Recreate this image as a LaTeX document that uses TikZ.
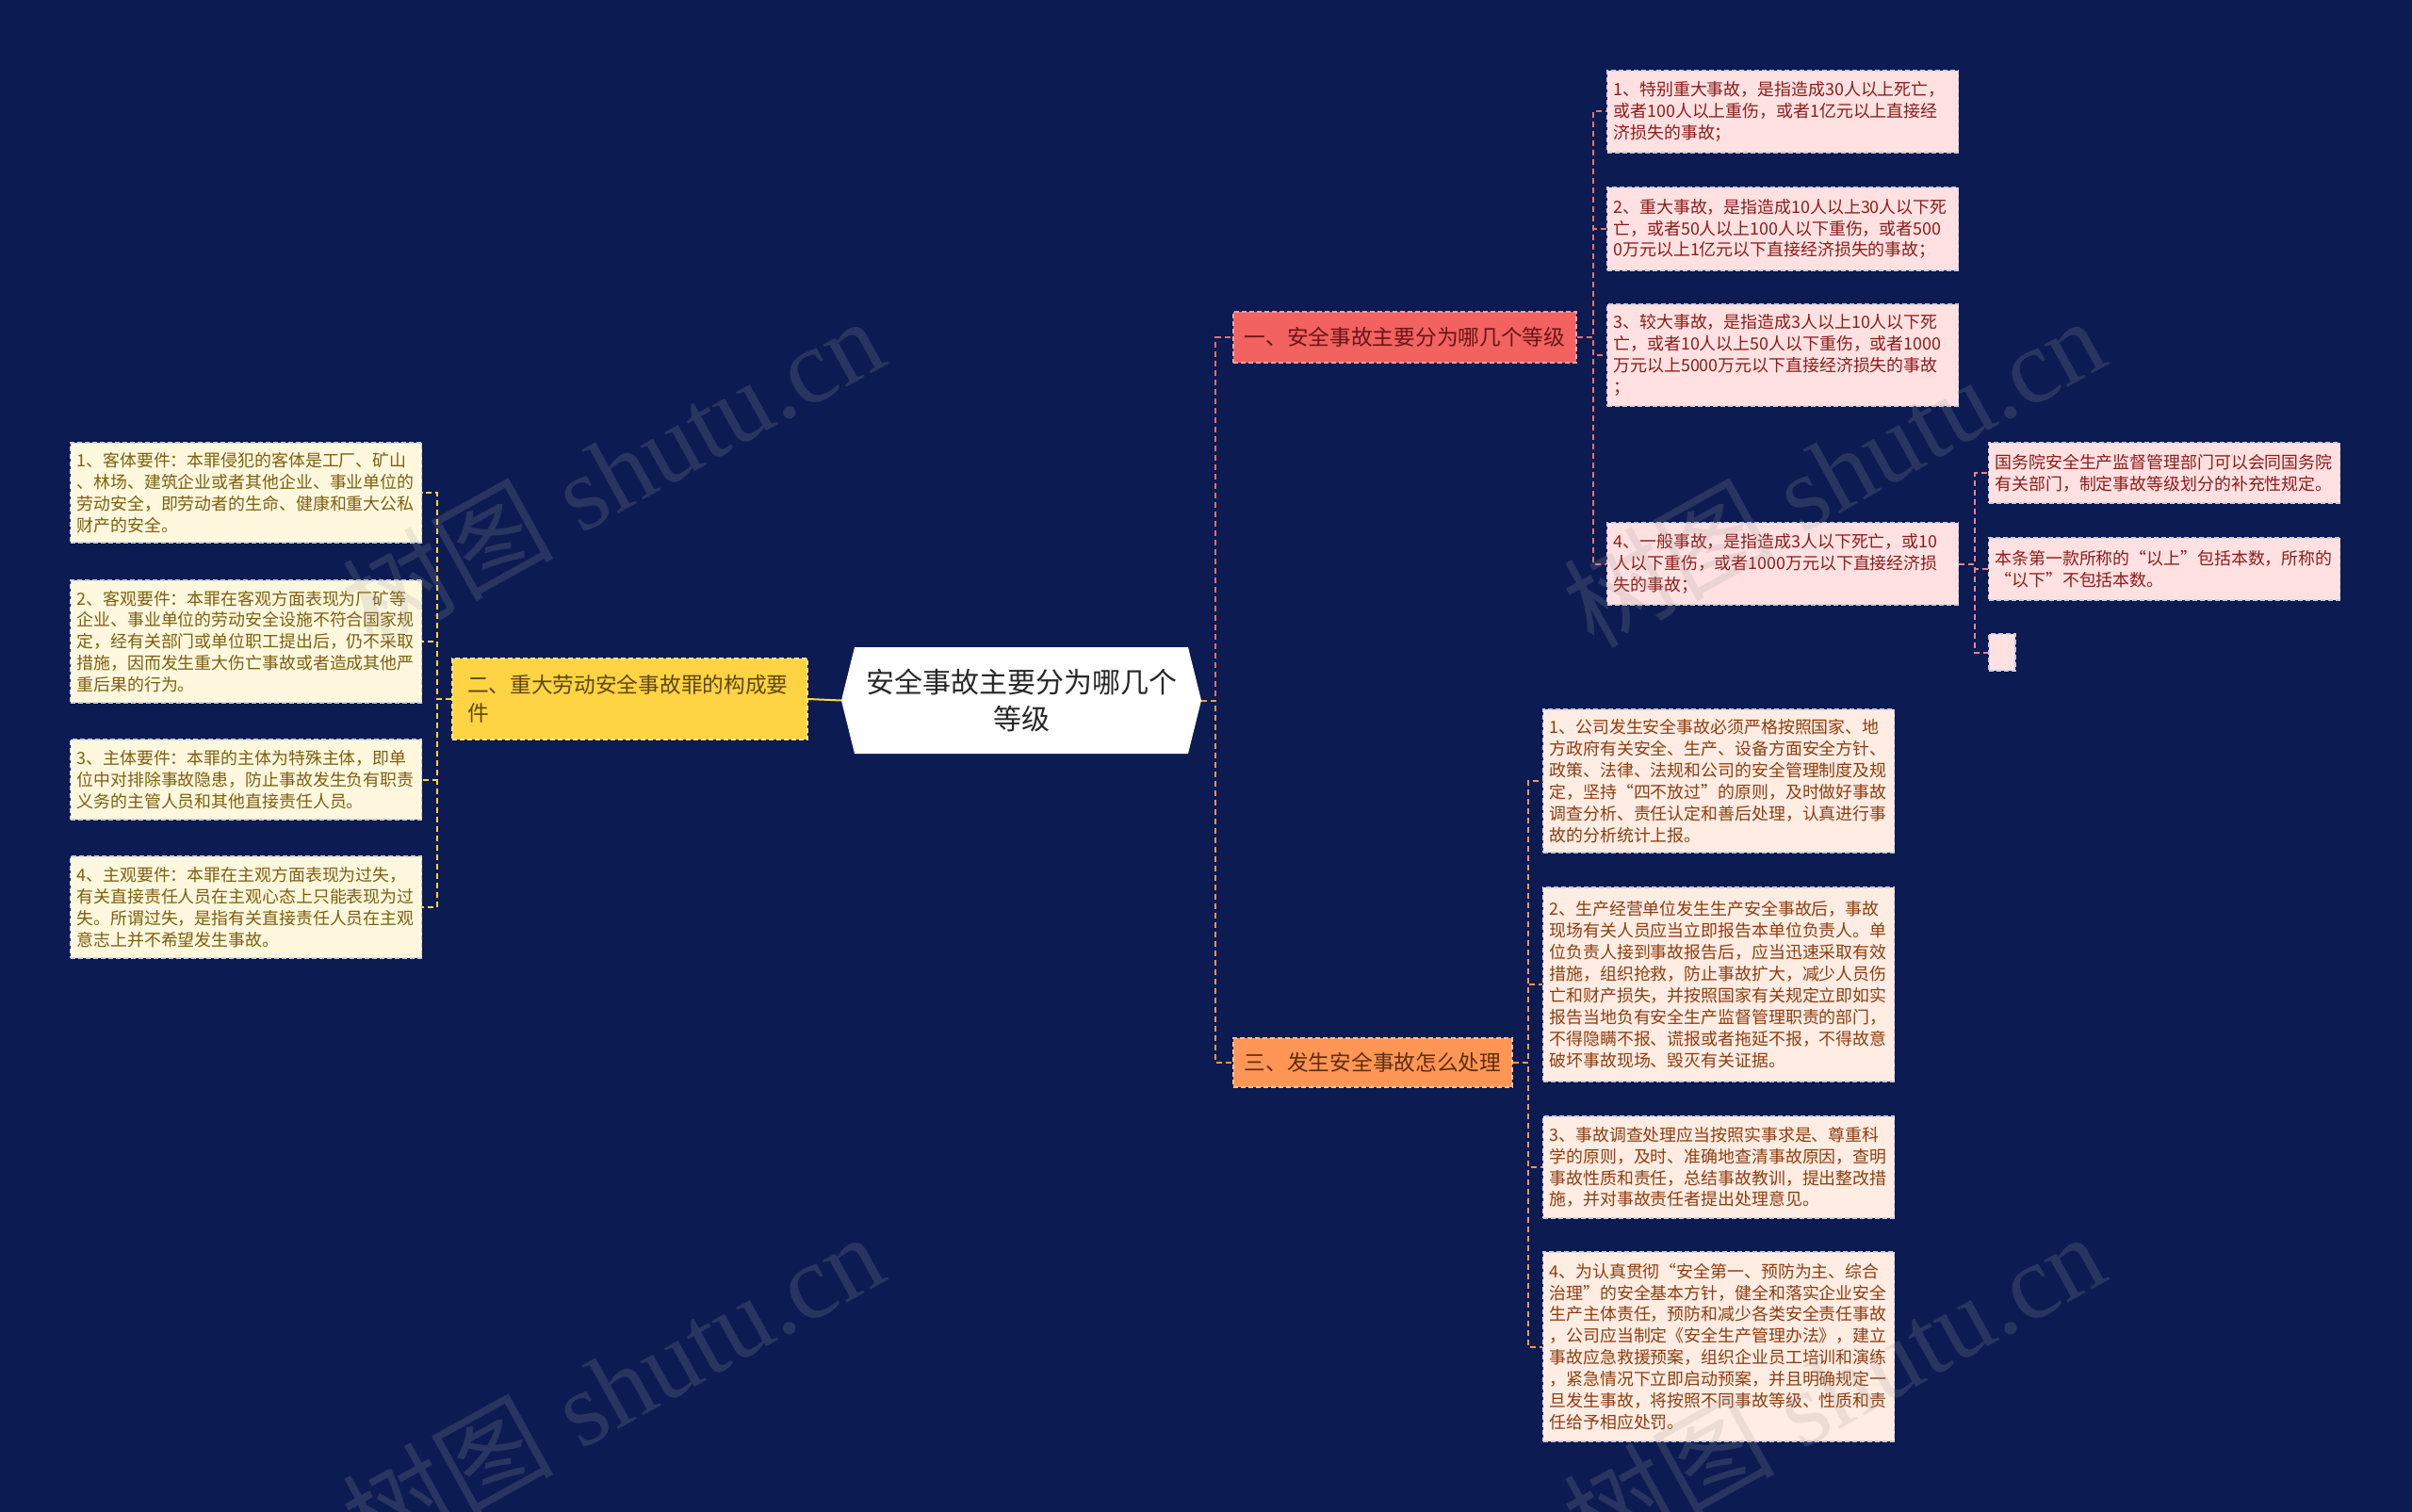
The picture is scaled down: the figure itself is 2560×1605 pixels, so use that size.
\documentclass[tikz,border=0pt]{standalone}
\usepackage{fontspec}
\newfontfamily\cjk{Noto Sans CJK SC}
\newfontfamily\wmlatin{Liberation Serif}
\usetikzlibrary{calc}
\definecolor{bgnavy}{RGB}{12,27,82}
\definecolor{rfill}{RGB}{255,225,225}
\definecolor{rtext}{RGB}{140,28,28}
\definecolor{yfill}{RGB}{255,248,222}
\definecolor{ytext}{RGB}{125,95,15}
\definecolor{ofill}{RGB}{255,236,226}
\definecolor{otext}{RGB}{140,62,18}
\definecolor{leafborder}{RGB}{205,205,220}
\definecolor{rednode}{RGB}{242,98,96}
\definecolor{rednodetext}{RGB}{105,22,22}
\definecolor{orangenode}{RGB}{255,150,85}
\definecolor{orangenodetext}{RGB}{95,45,12}
\definecolor{yellownode}{RGB}{255,212,68}
\definecolor{yellownodetext}{RGB}{95,72,10}
\definecolor{rline}{RGB}{242,112,100}
\definecolor{pline}{RGB}{235,130,145}
\definecolor{oline}{RGB}{255,150,85}
\definecolor{yline}{RGB}{255,212,68}
\definecolor{centertext}{RGB}{40,40,40}
\tikzset{
  leaf/.style={draw=leafborder, dash pattern=on 5pt off 3pt, line width=1.2pt,
    text width=359pt, align=left, inner xsep=7pt, inner ysep=0pt,
    font=\cjk\fontsize{17.9}{22.9}\selectfont},
  rleaf/.style={leaf, fill=rfill, text=rtext},
  yleaf/.style={leaf, fill=yfill, text=ytext},
  oleaf/.style={leaf, fill=ofill, text=otext},
  branch/.style={dash pattern=on 5pt off 3pt, line width=1.2pt, inner ysep=0pt,
    font=\cjk\fontsize{22.7}{30}\selectfont},
  centre/.style={minimum width=382pt, minimum height=113pt, align=center,
    text=centertext, font=\cjk\fontsize{30}{39}\selectfont},
  link/.style={line width=2pt, dash pattern=on 6pt off 4pt},
  wm/.style={text=gray!75!white, text opacity=0.2, rotate=29,
    font=\wmlatin\fontsize{112}{112}\selectfont}
}
\begin{document}
\begin{tikzpicture}[x=1pt,y=-1pt]
\useasboundingbox (0,0) rectangle (2560,1605);
\fill[bgnavy] (0,0) rectangle (2560,1605);

% centre
\coordinate (cc) at (1084,743.5);
\fill[white] ($(cc)+(-191,0)$) -- ($(cc)+(-177,-56.5)$) -- ($(cc)+(177,-56.5)$)
  -- ($(cc)+(191,0)$) -- ($(cc)+(177,56.5)$) -- ($(cc)+(-177,56.5)$) -- cycle;
\node[centre] (c) at (cc) {安全事故主要分为哪几个\\等级};

% main branches
\node[branch, draw=rednode!60!white, fill=rednode, text=rednodetext,
  minimum width=364pt, minimum height=54pt] (r) at (1491,358) {一、安全事故主要分为哪几个等级};
\node[branch, draw=orangenode!60!white, fill=orangenode, text=orangenodetext,
  minimum width=296pt, minimum height=52pt] (o) at (1457,1128) {三、发生安全事故怎么处理};
\node[branch, draw=yellownode!60!white, fill=yellownode, text=yellownodetext,
  text width=345pt, align=left, inner xsep=16pt, minimum height=86pt] (y) at (668.5,742)
  {二、重大劳动安全事故罪的构成要\\件};

% red leaves
\node[rleaf, minimum height=87pt] (r1) at (1892,118.5)
  {1、特别重大事故，是指造成30人以上死亡，\\或者100人以上重伤，或者1亿元以上直接经\\济损失的事故；};
\node[rleaf, minimum height=88pt] (r2) at (1892,243)
  {2、重大事故，是指造成10人以上30人以下死\\亡，或者50人以上100人以下重伤，或者500\\0万元以上1亿元以下直接经济损失的事故；};
\node[rleaf, minimum height=108pt] (r3) at (1892,377)
  {3、较大事故，是指造成3人以上10人以下死\\亡，或者10人以上50人以下重伤，或者1000\\万元以上5000万元以下直接经济损失的事故\\；};
\node[rleaf, minimum height=87pt] (r4) at (1892,598.5)
  {4、一般事故，是指造成3人以下死亡，或10\\人以下重伤，或者1000万元以下直接经济损\\失的事故；};

% far right leaves
\node[rleaf, minimum height=64pt] (f1) at (2297,502)
  {国务院安全生产监督管理部门可以会同国务院\\有关部门，制定事故等级划分的补充性规定。};
\node[rleaf, minimum height=66pt] (f2) at (2297,604)
  {本条第一款所称的“以上”包括本数，所称的\\“以下”不包括本数。};
\node[draw=leafborder, dash pattern=on 5pt off 3pt, line width=1.2pt, fill=rfill,
  minimum width=28pt, minimum height=39pt, inner sep=0pt] (f3) at (2125,692.5) {};

% left leaves
\node[yleaf, minimum height=106pt] (l1) at (261,523)
  {1、客体要件：本罪侵犯的客体是工厂、矿山\\、林场、建筑企业或者其他企业、事业单位的\\劳动安全，即劳动者的生命、健康和重大公私\\财产的安全。};
\node[yleaf, minimum height=130pt] (l2) at (261,681)
  {2、客观要件：本罪在客观方面表现为厂矿等\\企业、事业单位的劳动安全设施不符合国家规\\定，经有关部门或单位职工提出后，仍不采取\\措施，因而发生重大伤亡事故或者造成其他严\\重后果的行为。};
\node[yleaf, minimum height=85pt] (l3) at (261,827.5)
  {3、主体要件：本罪的主体为特殊主体，即单\\位中对排除事故隐患，防止事故发生负有职责\\义务的主管人员和其他直接责任人员。};
\node[yleaf, minimum height=108pt] (l4) at (261,963)
  {4、主观要件：本罪在主观方面表现为过失，\\有关直接责任人员在主观心态上只能表现为过\\失。所谓过失，是指有关直接责任人员在主观\\意志上并不希望发生事故。};

% orange leaves
\node[oleaf, minimum height=152pt] (o1) at (1824,829)
  {1、公司发生安全事故必须严格按照国家、地\\方政府有关安全、生产、设备方面安全方针、\\政策、法律、法规和公司的安全管理制度及规\\定，坚持“四不放过”的原则，及时做好事故\\调查分析、责任认定和善后处理，认真进行事\\故的分析统计上报。};
\node[oleaf, minimum height=206pt] (o2) at (1824,1045)
  {2、生产经营单位发生生产安全事故后，事故\\现场有关人员应当立即报告本单位负责人。单\\位负责人接到事故报告后，应当迅速采取有效\\措施，组织抢救，防止事故扩大，减少人员伤\\亡和财产损失，并按照国家有关规定立即如实\\报告当地负有安全生产监督管理职责的部门，\\不得隐瞒不报、谎报或者拖延不报，不得故意\\破坏事故现场、毁灭有关证据。};
\node[oleaf, minimum height=108pt] (o3) at (1824,1239)
  {3、事故调查处理应当按照实事求是、尊重科\\学的原则，及时、准确地查清事故原因，查明\\事故性质和责任，总结事故教训，提出整改措\\施，并对事故责任者提出处理意见。};
\node[oleaf, minimum height=201pt] (o4) at (1824,1429.5)
  {4、为认真贯彻“安全第一、预防为主、综合\\治理”的安全基本方针，健全和落实企业安全\\生产主体责任，预防和减少各类安全责任事故\\，公司应当制定《安全生产管理办法》，建立\\事故应急救援预案，组织企业员工培训和演练\\，紧急情况下立即启动预案，并且明确规定一\\旦发生事故，将按照不同事故等级、性质和责\\任给予相应处罚。};

% connectors
\draw[yline, line width=2pt] (y.east) -- (c.west);
\draw[link, rline] (c.east) -- ++(15,0) |- (r.west);
\draw[link, oline] (c.east) -- ++(15,0) |- (o.west);
\foreach \k in {r1,r2,r3,r4} \draw[link, rline] (r.east) -- ++(17,0) |- (\k.west);
\foreach \k in {f1,f2,f3} \draw[link, pline] (r4.east) -- ++(17,0) |- (\k.west);
\foreach \k in {l1,l2,l3,l4} \draw[link, yline] (y.west) -- ++(-15,0) |- (\k.east);
\foreach \k in {o1,o2,o3,o4} \draw[link, oline] (o.east) -- ++(16,0) |- (\k.west);

% watermarks
\node[wm] (w1) at (650,500) {{\cjk 树图} shutu.cn};
\node[wm] (w2) at (650,1472) {{\cjk 树图} shutu.cn};
\node[wm] (w3) at (1946,500) {{\cjk 树图} shutu.cn};
\node[wm] (w4) at (1946,1472) {{\cjk 树图} shutu.cn};
\end{tikzpicture}
\end{document}
